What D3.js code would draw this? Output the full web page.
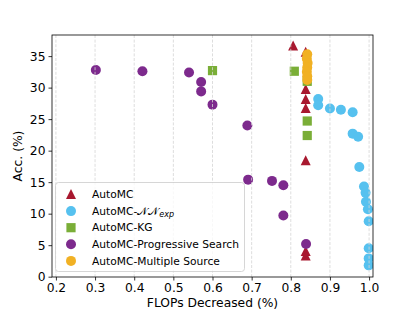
<!DOCTYPE html>
<html>
<head>
<meta charset="utf-8">
<script src="https://cdn.jsdelivr.net/npm/d3@7"></script>
<style>
  body { margin: 0; background: white; }
  text { font-family: "DejaVu Sans", sans-serif; fill: #000; }
</style>
</head>
<body>
<div id="chart"></div>
<script>
// Series data (x = FLOPs decreased, y = accuracy %)
var automcX = [0.806, 0.838, 0.838, 0.838, 0.838, 0.838, 0.838, 0.838];
var automcY = [36.6, 35.6, 29.7, 28.1, 26.7, 18.4, 4.0, 3.3];

var nnX = [0.870, 0.870, 0.900, 0.928, 0.958, 0.958, 0.972, 0.975, 0.987, 0.991, 0.992, 0.997, 0.999, 0.999, 0.999, 0.999];
var nnY = [28.2, 27.2, 26.7, 26.5, 26.1, 22.7, 22.2, 17.4, 14.3, 13.3, 11.9, 10.7, 8.8, 4.5, 2.9, 1.8];

var kgX = [0.600, 0.809, 0.842, 0.842, 0.842];
var kgY = [32.7, 32.6, 31.0, 24.7, 22.4];

var progX = [0.302, 0.421, 0.540, 0.571, 0.571, 0.600, 0.689, 0.691, 0.752, 0.781, 0.781, 0.839];
var progY = [32.8, 32.6, 32.4, 30.9, 29.4, 27.3, 24.0, 15.4, 15.2, 14.5, 9.7, 5.2];

var multiX = [0.842, 0.841, 0.843, 0.842, 0.841, 0.842, 0.842];
var multiY = [35.3, 34.6, 33.9, 33.2, 32.5, 31.8, 31.2];

var xTicks = [0.2, 0.3, 0.4, 0.5, 0.6, 0.7, 0.8, 0.9, 1.0];
var yTicks = [0, 5, 10, 15, 20, 25, 30, 35];

var series = [
  {name: "AutoMC", xs: automcX, ys: automcY, color: "#a8182f", shape: "triangle"},
  {name: "AutoMC-NN", xs: nnX, ys: nnY, color: "#56c1ef", shape: "circle"},
  {name: "AutoMC-KG", xs: kgX, ys: kgY, color: "#7aae37", shape: "square"},
  {name: "AutoMC-Progressive Search", xs: progX, ys: progY, color: "#7d2a8d", shape: "circle"},
  {name: "AutoMC-Multiple Source", xs: multiX, ys: multiY, color: "#f1b124", shape: "circle"}
];

var width = 415, height = 311;
var plotLeft = 52, plotRight = 373, plotTop = 35, plotBottom = 277;

var x = d3.scaleLinear().domain([0.19, 1.01]).range([plotLeft, plotRight]);
var y = d3.scaleLinear().domain([-0.05, 38.35]).range([plotBottom, plotTop]);

var svg = d3.select("#chart").append("svg")
  .attr("width", width)
  .attr("height", height);

svg.append("defs").append("clipPath").attr("id", "clip")
  .append("rect")
  .attr("x", plotLeft).attr("y", plotTop)
  .attr("width", plotRight - plotLeft).attr("height", plotBottom - plotTop);

// marker path generator
var markerPath = (shape) => {
  var p = d3.path();
  if (shape == "triangle") {
    p.moveTo(0, -5.5);
    p.lineTo(5, 4.5);
    p.lineTo(-5, 4.5);
    p.closePath();
  } else if (shape == "square") {
    p.rect(-4.6, -4.6, 9.2, 9.2);
  } else {
    p.arc(0, 0, 5, 0, 2 * Math.PI);
  }
  return p.toString();
};

// Points
var plot = svg.append("g").attr("clip-path", "url(#clip)");
series.forEach(s => {
  var pts = s.xs.map((v, i) => ({x: v, y: s.ys[i]}));
  plot.selectAll(null)
    .data(pts)
    .enter()
    .append("path")
    .attr("d", markerPath(s.shape))
    .attr("transform", d => `translate(${x(d.x)},${y(d.y)})`)
    .style("fill", s.color);
});

// Vertical grid (drawn over the markers, like matplotlib)
svg.append("g")
  .selectAll("line")
  .data(xTicks)
  .enter()
  .append("line")
  .attr("x1", d => x(d)).attr("x2", d => x(d))
  .attr("y1", plotTop).attr("y2", plotBottom)
  .style("stroke", "#d4d4d4")
  .style("stroke-width", 0.8)
  .style("stroke-dasharray", "3,1.6");

// Axes
var xAxis = svg.append("g")
  .attr("transform", `translate(0,${plotBottom})`)
  .call(d3.axisBottom(x).tickValues(xTicks).tickFormat(d3.format(".1f")).tickSizeOuter(0).tickSize(3.5).tickPadding(2.5));
var yAxis = svg.append("g")
  .attr("transform", `translate(${plotLeft},0)`)
  .call(d3.axisLeft(y).tickValues(yTicks).tickSizeOuter(0).tickSize(3.5).tickPadding(3));

[xAxis, yAxis].forEach(a => {
  a.select(".domain").remove();
  a.selectAll(".tick line").style("stroke", "#000").style("stroke-width", 0.8);
  a.selectAll("text")
    .style("font-family", "DejaVu Sans")
    .style("font-size", "12.3px")
    .style("fill", "#000");
});

// Frame
svg.append("rect")
  .attr("x", plotLeft).attr("y", plotTop)
  .attr("width", plotRight - plotLeft).attr("height", plotBottom - plotTop)
  .style("fill", "none")
  .style("stroke", "#000")
  .style("stroke-width", 0.8);

// Axis labels
svg.append("text")
  .attr("x", (plotLeft + plotRight) / 2)
  .attr("y", 307)
  .attr("text-anchor", "middle")
  .style("font-size", "12.3px")
  .text("FLOPs Decreased (%)");

svg.append("text")
  .attr("transform", `translate(22,${(plotTop + plotBottom) / 2}) rotate(-90)`)
  .attr("text-anchor", "middle")
  .style("font-size", "12.3px")
  .text("Acc. (%)");

// Legend
var legend = svg.append("g");
legend.append("rect")
  .attr("x", 55.5).attr("y", 182.5)
  .attr("width", 189).attr("height", 89)
  .attr("rx", 3)
  .style("fill", "white")
  .style("fill-opacity", 0.8)
  .style("stroke", "#cccccc")
  .style("stroke-width", 0.8);

var rows = legend.selectAll(".row")
  .data(series)
  .enter()
  .append("g")
  .attr("class", "row")
  .attr("transform", (d, i) => `translate(71,${194.5 + i * 16.6})`);

rows.append("path")
  .attr("d", d => markerPath(d.shape))
  .style("fill", d => d.color);

rows.append("text")
  .attr("x", 21)
  .attr("dy", "0.35em")
  .style("font-size", "10.7px")
  .each(function(d) {
    var t = d3.select(this);
    if (d.name == "AutoMC-NN") {
      t.append("tspan").text("AutoMC-");
      t.append("tspan").text("\u{1D4A9}\u{1D4A9}");
      t.append("tspan").attr("dy", "2.5").style("font-style", "italic").style("font-size", "8px").text("exp");
    } else {
      t.text(d.name);
    }
  });
</script>
</body>
</html>
